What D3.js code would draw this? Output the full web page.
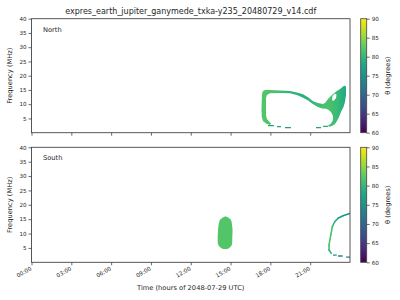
<!DOCTYPE html>
<html><head><meta charset="utf-8">
<script src="https://cdn.jsdelivr.net/npm/d3@7"></script>
<style>body{margin:0;background:#fff}svg{display:block}text{font-family:"DejaVu Sans",sans-serif;fill:#262626}</style>
</head><body><svg id="c" width="400" height="300"></svg>
<script>
// ---------- data ----------
const titleText = "expres_earth_jupiter_ganymede_txka-y235_20480729_v14.cdf";
const hourTicks = [0, 3, 6, 9, 12, 15, 18, 21];
const hourLabels = ["00:00", "03:00", "06:00", "09:00", "12:00", "15:00", "18:00", "21:00"];
const freqTicks = [5, 10, 15, 20, 25, 30, 35, 40];
const thetaTicks = [60, 65, 70, 75, 80, 85, 90];
const panelNames = ["North", "South"];
const xLabel = "Time (hours of 2048-07-29 UTC)";
const yLabel = "Frequency (MHz)";
const cLabel = "\u03b8 (degrees)";

// North hemisphere emission: [hour, MHz]
const northBandOuter = [[17.97,2.7],[17.67,3.2],[17.44,4.1],[17.35,5.5],[17.33,8.0],[17.35,11.5],[17.37,13.6],[17.44,14.6],[17.6,15.0],[17.97,15.0],[18.73,14.8],[19.48,14.6],[20.0,14.1],[20.46,13.5],[20.84,12.4],[21.2,11.1],[21.58,10.4],[21.96,10.07]];
const northBandInner = [[18.05,3.2],[17.9,3.9],[17.74,4.8],[17.67,6.2],[17.67,12.2],[17.74,13.2],[17.97,13.8],[18.73,13.9],[19.48,13.8],[20.0,13.2],[20.46,12.3],[20.84,11.3],[21.2,10.1],[21.58,9.0],[21.96,8.42]];
const northLoop = [[21.96,10.07],[22.12,10.42],[22.34,11.82],[22.64,13.23],[22.95,14.46],[23.25,15.33],[23.47,16.21],[23.62,16.56],[23.7,16.04],[23.7,13.23],[23.62,10.77],[23.51,9.02],[23.32,7.26],[23.17,5.51],[23.02,4.11],[22.87,3.05],[22.64,2.35],[22.42,2.07],[22.34,2.53],[22.57,3.23],[22.72,4.46],[22.72,5.86],[22.57,7.26],[22.34,8.14],[22.12,8.49],[21.96,8.42]];
const northHole = [[22.64,11.47],[22.68,12.88],[22.87,13.75],[22.98,13.4],[22.95,12.18],[22.76,11.12]];
const northShade = [[17.3,82],[18.3,81.5],[19.3,79.5],[20.5,79],[21.5,80.5],[22.3,81.5],[23.0,80.5],[23.7,78]];
const northDashes = [[17.82,18.27,2.5,77.5],[18.5,18.8,2.1,77],[19.1,19.55,1.75,76.5],[21.44,21.82,1.75,77],[21.97,22.35,2.2,78]];

// South hemisphere emission
const southBlob = [[14.65,15.9],[14.9,15.3],[15.03,14.7],[15.13,12.4],[15.15,10.5],[15.13,8.9],[15.09,6.0],[14.88,4.9],[14.6,4.6],[14.32,4.9],[14.08,6.0],[14.03,8.9],[14.05,10.5],[14.08,12.4],[14.2,14.7],[14.4,15.5]];
const southBlobTheta = 81.8;
const southArc = [[23.98,17.0,75.5],[23.47,16.2,76],[23.1,15.3,77],[22.85,14.1,79],[22.67,12.4,81],[22.55,9.5,81.5],[22.42,6.0,81.5],[22.42,4.3,81],[22.59,3.1,78]];
const southDashes = [[22.72,23.0,2.5,75],[23.1,23.45,2.2,74],[23.7,24.0,1.8,73]];

// ---------- drawing ----------
const svg = d3.select("#c");
const L = 31.5, R = 350;
const panels = [{top: 18.7, bottom: 132.7}, {top: 147.3, bottom: 262.3}];
const x = d3.scaleLinear().domain([0, 24]).range([L, R]);
const color = d3.scaleSequential(d3.interpolateViridis).domain([60, 90]);
const defs = svg.append("defs");

// colorbar gradient
const cg = defs.append("linearGradient").attr("id", "cbar").attr("x1", 0).attr("x2", 0).attr("y1", 1).attr("y2", 0);
d3.range(0, 1.0001, 0.05).forEach(o => cg.append("stop").attr("offset", o).attr("stop-color", d3.interpolateViridis(o)));

// north shading gradient (horizontal, by time)
const t0 = northShade[0][0], t1 = northShade[northShade.length - 1][0];
const ng = defs.append("linearGradient").attr("id", "nshade").attr("gradientUnits", "userSpaceOnUse")
  .attr("x1", x(t0)).attr("x2", x(t1)).attr("y1", 0).attr("y2", 0);
northShade.forEach(d => ng.append("stop").attr("offset", (d[0] - t0) / (t1 - t0)).attr("stop-color", color(d[1])));

panels.forEach((p, i) => {
  const y = d3.scaleLinear().domain([0, 40]).range([p.bottom, p.top]);
  const g = svg.append("g");
  defs.append("clipPath").attr("id", "clip" + i).append("rect")
    .attr("x", L).attr("y", p.top).attr("width", R - L).attr("height", p.bottom - p.top);
  const plot = g.append("g").attr("clip-path", `url(#clip${i})`);
  const line = d3.line().x(d => x(d[0])).y(d => y(d[1]));
  const smooth = d3.line().x(d => x(d[0])).y(d => y(d[1])).curve(d3.curveCatmullRomClosed);

  if (i === 0) {
    const band = northBandOuter.concat(northBandInner.slice().reverse());
    plot.append("path").attr("d", line(band) + "Z").attr("fill", "url(#nshade)");
    plot.append("path").attr("d", line(northLoop) + "Z" + line(northHole) + "Z")
      .attr("fill", "url(#nshade)").attr("fill-rule", "evenodd");
    plot.selectAll("line.d").data(northDashes).join("line")
      .attr("x1", d => x(d[0])).attr("x2", d => x(d[1])).attr("y1", d => y(d[2])).attr("y2", d => y(d[2]))
      .attr("stroke", d => color(d[3])).attr("stroke-width", 1.3);
  } else {
    plot.append("path").attr("d", smooth(southBlob)).attr("fill", color(southBlobTheta));
    d3.pairs(southArc).forEach(([a, b]) => {
      plot.append("line").attr("x1", x(a[0])).attr("y1", y(a[1])).attr("x2", x(b[0])).attr("y2", y(b[1]))
        .attr("stroke", color((a[2] + b[2]) / 2)).attr("stroke-width", 1.6).attr("stroke-linecap", "round");
    });
    plot.selectAll("line.d").data(southDashes).join("line")
      .attr("x1", d => x(d[0])).attr("x2", d => x(d[1])).attr("y1", d => y(d[2])).attr("y2", d => y(d[2]))
      .attr("stroke", d => color(d[3])).attr("stroke-width", 1.3);
  }

  // axes
  const ya = g.append("g").attr("transform", `translate(${L},0)`)
    .call(d3.axisLeft(y).tickValues(freqTicks).tickSize(3).tickPadding(2));
  const xa = g.append("g").attr("transform", `translate(0,${p.bottom})`)
    .call(d3.axisBottom(x).tickValues(hourTicks).tickSize(3).tickPadding(2)
      .tickFormat((d, k) => i === 1 ? hourLabels[k] : ""));
  [ya, xa].forEach(a => {
    a.select(".domain").remove();
    a.selectAll("line").attr("stroke", "#444").attr("stroke-width", 0.8);
    a.selectAll("text").attr("font-size", 5.6).attr("fill", "#262626").style("font-family", "DejaVu Sans");
  });
  if (i === 1) {
    xa.selectAll("text").attr("text-anchor", "end").attr("dy", null).attr("y", 0)
      .attr("transform", d => `translate(0,7.5) rotate(-30)`);
  }
  g.append("rect").attr("x", L).attr("y", p.top).attr("width", R - L).attr("height", p.bottom - p.top)
    .attr("fill", "none").attr("stroke", "#444").attr("stroke-width", 0.9);

  g.append("text").attr("x", 43).attr("y", p.top + 13).attr("font-size", 6.7).text(panelNames[i]);
  g.append("text").attr("transform", `translate(12,${(p.top + p.bottom) / 2}) rotate(-90)`)
    .attr("text-anchor", "middle").attr("font-size", 6.7).text(yLabel);

  // colorbar
  const cx0 = 360.7, cw = 6;
  const cy = d3.scaleLinear().domain([60, 90]).range([p.bottom, p.top]);
  g.append("rect").attr("x", cx0).attr("y", p.top).attr("width", cw).attr("height", p.bottom - p.top).attr("fill", "url(#cbar)");
  const ca = g.append("g").attr("transform", `translate(${cx0 + cw},0)`)
    .call(d3.axisRight(cy).tickValues(thetaTicks).tickSize(3).tickPadding(2));
  ca.select(".domain").remove();
  ca.selectAll("line").attr("stroke", "#444").attr("stroke-width", 0.8);
  ca.selectAll("text").attr("font-size", 5.6).attr("fill", "#262626").style("font-family", "DejaVu Sans");
  g.append("rect").attr("x", cx0).attr("y", p.top).attr("width", cw).attr("height", p.bottom - p.top)
    .attr("fill", "none").attr("stroke", "#444").attr("stroke-width", 0.8);
  g.append("text").attr("transform", `translate(390,${(p.top + p.bottom) / 2}) rotate(-90)`)
    .attr("text-anchor", "middle").attr("font-size", 6.7).text(cLabel);
});

svg.append("text").attr("x", (L + R) / 2).attr("y", 14).attr("text-anchor", "middle").attr("font-size", 8).text(titleText);
svg.append("text").attr("x", (L + R) / 2).attr("y", 289.5).attr("text-anchor", "middle").attr("font-size", 6.7).text(xLabel);
</script></body></html>
